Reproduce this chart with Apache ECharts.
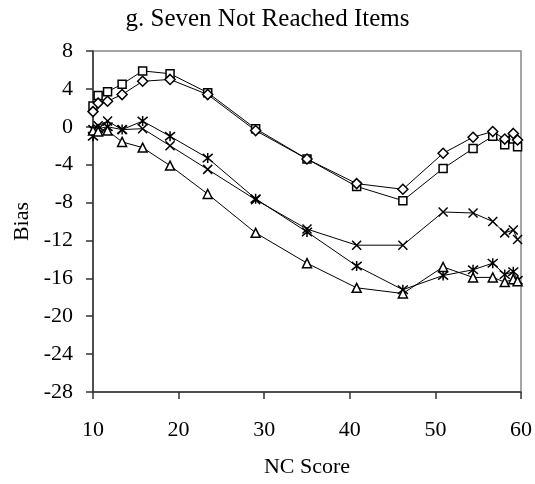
<!DOCTYPE html>
<html><head><meta charset="utf-8">
<script src="https://cdn.jsdelivr.net/npm/echarts@6/dist/echarts.min.js"></script>
<style>html,body{margin:0;padding:0;background:#fff}#c{width:535px;height:484px}</style>
</head><body><div id="c"></div>
<script>
const ncScores = [10, 10.6, 11.7, 13.4, 15.8, 19.0, 23.4, 29.0, 35.0, 40.8, 46.2, 50.9, 54.4, 56.7, 58.1, 59.1, 59.6];
const squareBias = [2.2, 3.3, 3.7, 4.5, 5.9, 5.6, 3.6, -0.2, -3.4, -6.3, -7.8, -4.4, -2.3, -1.0, -1.9, -1.3, -2.1];
const diamondBias = [1.6, 2.5, 2.7, 3.4, 4.8, 5.0, 3.4, -0.4, -3.4, -6.0, -6.6, -2.8, -1.1, -0.5, -1.3, -0.7, -1.4];
const crossBias = [-0.3, 0.1, 0.6, -0.3, -0.2, -2.0, -4.5, -7.7, -10.8, -12.5, -12.5, -9.0, -9.1, -10.0, -11.2, -10.9, -11.9];
const starBias = [-1.0, -0.2, 0.0, -0.3, 0.6, -1.0, -3.3, -7.6, -11.1, -14.7, -17.2, -15.7, -15.1, -14.4, -15.6, -15.3, -16.2];
const triangleBias = [-0.4, -0.5, -0.4, -1.6, -2.2, -4.1, -7.1, -11.2, -14.4, -17.0, -17.6, -14.8, -15.9, -15.9, -16.4, -16.1, -16.3];
const titleText = 'g. Seven Not Reached Items';
const xName = 'NC Score';
const yName = 'Bias';

const FONT = '"Liberation Serif", "DejaVu Serif", serif';
const pair = ys => ncScores.map((x, i) => [x, ys[i]]);
function mk(name, ys, symbol, size) {
  return {
    name, type: 'line', data: pair(ys), symbol, symbolSize: size,
    showAllSymbol: true,
    lineStyle: { color: '#000', width: 1 },
    itemStyle: { color: '#fff', borderColor: '#000', borderWidth: 1.5 },
    emphasis: { disabled: true }, animation: false, z: 3
  };
}
const crossPath = 'path://M0,0L10,10M10,0L0,10';
const starPath = 'path://M0,0L10,10M10,0L0,10M5,-1L5,11';
const chart = echarts.init(document.getElementById('c'), null, { renderer: 'canvas' });
chart.setOption({
  backgroundColor: '#fff',
  animation: false,
  title: { text: titleText, left: 'center', top: 2,
    textStyle: { fontFamily: FONT, fontSize: 25, fontWeight: 'normal', color: '#000' } },
  grid: { left: 93, right: 14, top: 51, bottom: 92, show: true, borderColor: '#888', borderWidth: 1.5, backgroundColor: 'transparent' },
  xAxis: {
    type: 'value', min: 10, max: 60, interval: 10,
    name: xName, nameLocation: 'middle', nameGap: 64,
    nameTextStyle: { fontFamily: FONT, fontSize: 22, color: '#000' },
    axisLine: { onZero: false, lineStyle: { color: '#333', width: 1.5 } },
    axisTick: { show: true, inside: false, length: 7, lineStyle: { color: '#333', width: 1.5 } },
    axisLabel: { fontFamily: FONT, fontSize: 22, color: '#000', margin: 27 },
    splitLine: { show: false }
  },
  yAxis: {
    type: 'value', min: -28, max: 8, interval: 4,
    name: yName, nameLocation: 'middle', nameGap: 53, nameRotate: 90,
    nameTextStyle: { fontFamily: FONT, fontSize: 22, color: '#000' },
    axisLine: { show: true, onZero: false, lineStyle: { color: '#333', width: 1.5 } },
    axisTick: { show: true, inside: false, length: 7, lineStyle: { color: '#333', width: 1.5 } },
    axisLabel: { fontFamily: FONT, fontSize: 22, color: '#000', margin: 20, padding: [4, 0, 0, 0] },
    splitLine: { show: false }
  },
  series: [
    mk('square', squareBias, 'rect', 8),
    mk('diamond', diamondBias, 'diamond', 10),
    mk('cross', crossBias, crossPath, 9),
    mk('star', starBias, starPath, 10),
    mk('triangle', triangleBias, 'triangle', 9)
  ]
});
</script></body></html>
